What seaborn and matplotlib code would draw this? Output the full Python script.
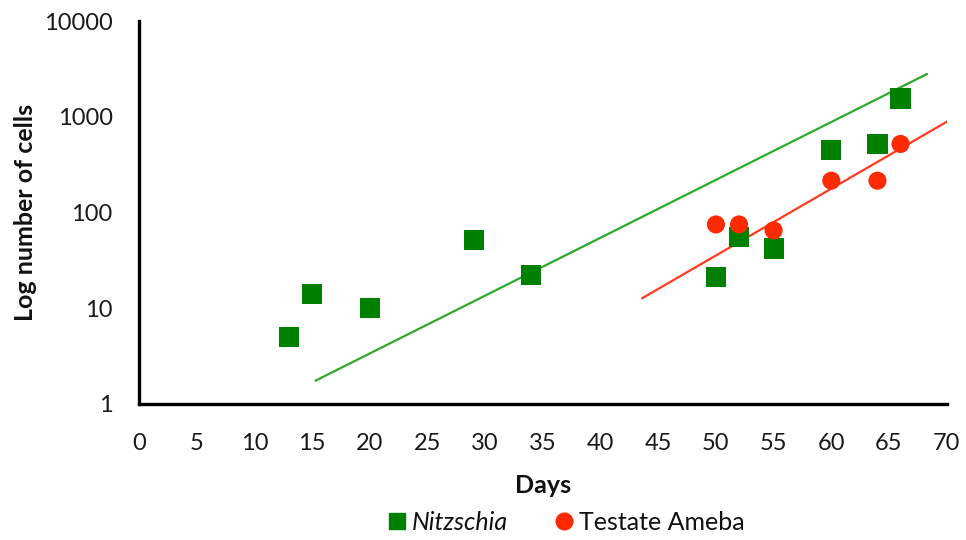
import matplotlib
matplotlib.use("Agg")
import matplotlib.pyplot as plt
import matplotlib.lines as mlines
import seaborn as sns
import pandas as pd

# Observed cell counts
nitz_days = [13, 15, 20, 29, 34, 50, 52, 55, 60, 64, 66]
nitz_cells = [5, 14, 10, 52, 22, 21, 55, 42, 450, 520, 1550]

ameba_days = [50, 52, 55, 60, 64, 66]
ameba_cells = [75, 75, 65, 215, 215, 520]

# Exponential trend lines (start/end of each line)
nitz_trend_days = [15.3, 68.3]
nitz_trend_cells = [1.75, 2800]
ameba_trend_days = [43.6, 70.3]
ameba_trend_cells = [12.7, 930]

x_ticks = list(range(0, 75, 5))
y_ticks = [1, 10, 100, 1000, 10000]

GREEN = "#008000"
GREEN_LINE = "#2ea82e"
RED = "#ff2a00"
RED_LINE = "#ff3b1f"

sns.set_theme(style="white")
plt.rcParams["font.family"] = ["Lato", "DejaVu Sans"]

fig = plt.figure(figsize=(9.66, 5.4), dpi=100)
ax = fig.add_axes([0.1439, 0.252, 0.8361, 0.709])

pts = pd.concat([
    pd.DataFrame({"Days": nitz_days, "Cells": nitz_cells, "Series": "Nitzschia"}),
    pd.DataFrame({"Days": ameba_days, "Cells": ameba_cells, "Series": "Testate Ameba"}),
])
trend = pd.concat([
    pd.DataFrame({"Days": nitz_trend_days, "Cells": nitz_trend_cells, "Series": "Nitzschia"}),
    pd.DataFrame({"Days": ameba_trend_days, "Cells": ameba_trend_cells, "Series": "Testate Ameba"}),
])

sns.lineplot(data=trend, x="Days", y="Cells", hue="Series",
             palette={"Nitzschia": GREEN_LINE, "Testate Ameba": RED_LINE},
             linewidth=1.6, legend=False, ax=ax, zorder=2)
sns.scatterplot(data=pts[pts.Series == "Nitzschia"], x="Days", y="Cells",
                marker="s", s=210, color=GREEN, edgecolor="none",
                legend=False, ax=ax, zorder=3)
sns.scatterplot(data=pts[pts.Series == "Testate Ameba"], x="Days", y="Cells",
                marker="o", s=170, color=RED, edgecolor="none",
                legend=False, ax=ax, zorder=4)

ax.set_yscale("log")
ax.set_xlim(0, 70)
ax.set_ylim(1, 10000)
ax.set_xticks(x_ticks)
ax.set_xticklabels([str(t) for t in x_ticks])
ax.set_yticks(y_ticks)
ax.set_yticklabels([str(t) for t in y_ticks])
ax.yaxis.set_minor_locator(matplotlib.ticker.NullLocator())
ax.tick_params(axis="both", length=0, labelsize=17, colors="#1a1a1a")
ax.tick_params(axis="x", pad=21)
ax.tick_params(axis="y", pad=19)

for side in ("top", "right"):
    ax.spines[side].set_visible(False)
for side in ("left", "bottom"):
    ax.spines[side].set_color("black")
    ax.spines[side].set_linewidth(2.4)
ax.grid(False)

ax.set_xlabel("Days", fontsize=18, fontweight="bold", labelpad=14, color="#111111")
ax.set_ylabel("Log number of cells", fontsize=18, fontweight="bold", labelpad=5,
              color="#111111")

handles = [
    mlines.Line2D([], [], marker="s", color=GREEN, linestyle="none", markersize=12),
    mlines.Line2D([], [], marker="o", color=RED, linestyle="none", markersize=12),
]
leg = fig.legend(handles, ["Nitzschia", "Testate Ameba"], loc="center",
                 bbox_to_anchor=(0.585, 0.033), ncol=2, frameon=False,
                 fontsize=18, handletextpad=0.15, columnspacing=1.8,
                 handlelength=0.9, labelcolor="#111111")
leg.get_texts()[0].set_style("italic")

fig.savefig("out.png", dpi=100)
